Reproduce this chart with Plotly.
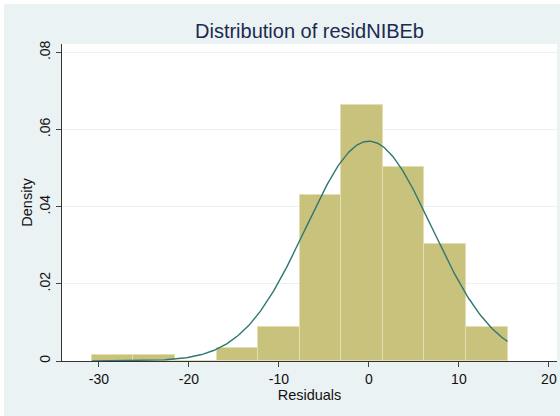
import plotly.graph_objects as go
import numpy as np

# Histogram bins (edges) and densities
bin_edges = [-30.79, -26.17, -21.55, -16.93, -12.31, -7.69, -3.07, 1.55, 6.17, 10.79, 15.41]
densities = [0.00166, 0.00166, 0.0, 0.00345, 0.0088, 0.0430, 0.0664, 0.0502, 0.0304, 0.0088]

# Normal density overlay parameters
norm_mean = 0.0
norm_sd = 7.0

x_ticks = [-30, -20, -10, 0, 10, 20]
x_tick_labels = ["-30", "-20", "-10", "0", "10", "20"]
y_ticks = [0, 0.02, 0.04, 0.06, 0.08]
y_tick_labels = ["0", ".02", ".04", ".06", ".08"]

centers = [(a + b) / 2 for a, b in zip(bin_edges[:-1], bin_edges[1:])]
widths = [b - a for a, b in zip(bin_edges[:-1], bin_edges[1:])]

xs = np.linspace(bin_edges[0], bin_edges[-1], 300)
ys = np.exp(-0.5 * ((xs - norm_mean) / norm_sd) ** 2) / (norm_sd * np.sqrt(2 * np.pi))

BG = "#EAF2F3"
fig = go.Figure()
fig.add_trace(go.Bar(
    x=centers, y=densities, width=widths,
    marker=dict(color="#C9C27D", line=dict(color="#E3DFB0", width=1)),
    hoverinfo="skip", showlegend=False,
))
fig.add_trace(go.Scatter(
    x=xs, y=ys, mode="lines",
    line=dict(color="#2E7773", width=1.4),
    hoverinfo="skip", showlegend=False,
))

W, H = 560, 416
ml, mr, mt, mb = 62, 3, 44, 55
pw, ph = W - ml - mr, H - mt - mb

fig.update_layout(
    width=W, height=H,
    margin=dict(l=ml, r=mr, t=mt, b=mb, pad=0),
    paper_bgcolor=BG, plot_bgcolor="white",
    font=dict(family="Liberation Sans, Arial, sans-serif", color="#111111", size=14),
    title=dict(text="Distribution of residNIBEb", x=(ml + pw / 2) / W, xanchor="center",
               y=1 - 31 / H, yanchor="middle",
               font=dict(size=20, color="#1C2A50")),
    bargap=0,
    xaxis=dict(
        range=[-34.1, 20.9], tickvals=x_ticks, ticktext=x_tick_labels,
        ticks="outside", ticklen=5,
        tickcolor="#444444", showline=True, linecolor="#333333", linewidth=1,
        showgrid=False, zeroline=False,
        title=dict(text="Residuals", standoff=3, font=dict(size=14.5)),
        tickfont=dict(size=14),
    ),
    yaxis=dict(
        range=[0, 0.0822], tickvals=y_ticks, ticktext=y_tick_labels, tickangle=-90,
        ticks="outside", ticklen=5, tickcolor="#444444",
        showline=True, linecolor="#333333", linewidth=1,
        showgrid=True, gridcolor=BG, gridwidth=1, zeroline=False,
        title=dict(text="Density", standoff=1, font=dict(size=14.5)),
        tickfont=dict(size=14),
    ),
    shapes=[
        dict(type="rect", xref="paper", yref="paper",
             x0=-ml / pw, x1=(W - ml) / pw, y0=(ph + mt - 4) / ph, y1=(ph + mt) / ph,
             fillcolor="white", line=dict(width=0), layer="above"),
        dict(type="rect", xref="paper", yref="paper",
             x0=-ml / pw, x1=(4 - ml) / pw, y0=-mb / ph, y1=(ph + mt) / ph,
             fillcolor="white", line=dict(width=0), layer="above"),
    ],
)

fig.write_html("out.html")
